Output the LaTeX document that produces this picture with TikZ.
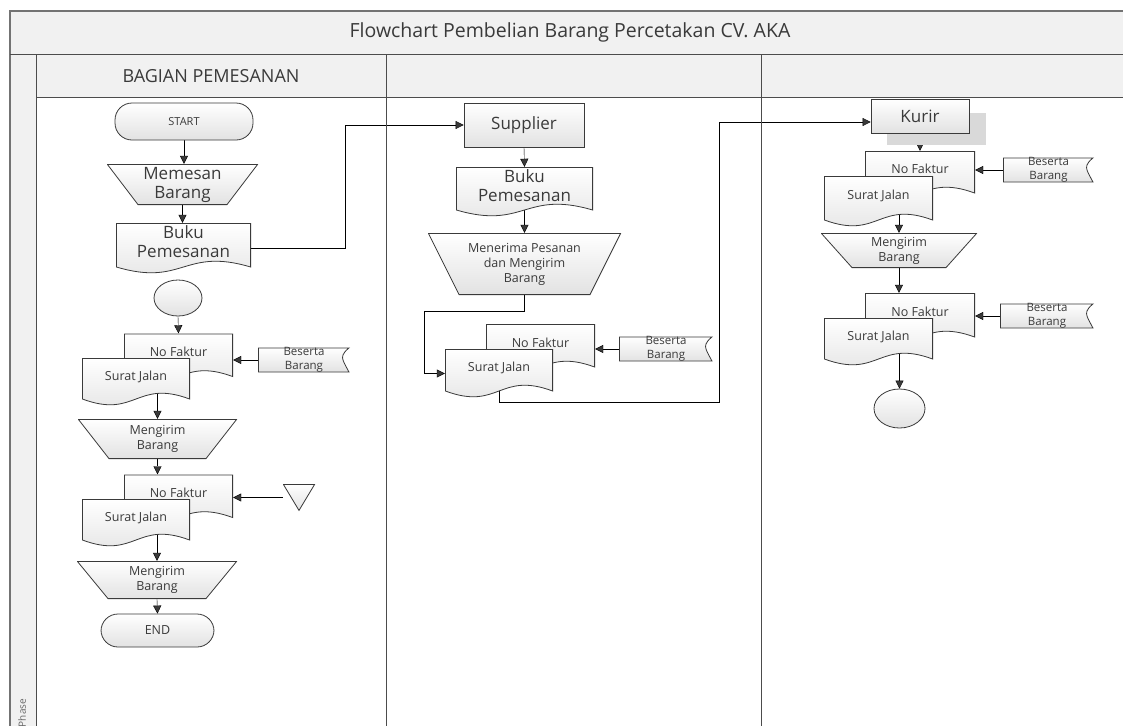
\documentclass[tikz,border=0pt]{standalone}
\usepackage{fontspec}
\setmainfont{Open Sans}
\usetikzlibrary{arrows.meta,shapes.geometric,backgrounds}

\definecolor{ink}{HTML}{3A3A3A}
\definecolor{bar}{HTML}{F1F1F1}
\definecolor{shade}{HTML}{E2E2E2}

\tikzset{
  lbl/.style={inner sep=0pt, align=center, text=ink, font=\fontsize{12.5}{15}\selectfont},
  big/.style={font=\fontsize{17}{19}\selectfont},
  shapeink/.style={draw=ink, line width=0.8pt, top color=white, bottom color=shade},
  process/.style={lbl, shapeink, minimum width=#1, minimum height=34},
  terminal/.style={lbl, shapeink, rounded corners=17pt, minimum width=#1, minimum height=36},
  connector/.style={lbl, shapeink, ellipse, minimum width=48, minimum height=36},
  % document: wavy bottom edge
  docbox/.style={lbl, minimum width=#1, minimum height=50, text depth=13pt,
    path picture={
      \path[shapeink] ([shift={(0.4pt,-0.4pt)}]path picture bounding box.north west)
        -- ([shift={(-0.4pt,-0.4pt)}]path picture bounding box.north east)
        -- ([shift={(-0.4pt,7pt)}]path picture bounding box.south east)
        .. controls ([yshift=27pt]path picture bounding box.south)
        and ([yshift=-13pt]path picture bounding box.south)
        .. ([shift={(0.4pt,7pt)}]path picture bounding box.south west) -- cycle;
    }},
  % manual operation: wide top, narrow bottom
  manual/.style={lbl, minimum width=#1, minimum height=40,
    path picture={
      \path[shapeink] ([shift={(0.4pt,-0.4pt)}]path picture bounding box.north west)
        -- ([shift={(-0.4pt,-0.4pt)}]path picture bounding box.north east)
        -- ([shift={(-31pt,0.4pt)}]path picture bounding box.south east)
        -- ([shift={(31pt,0.4pt)}]path picture bounding box.south west) -- cycle;
    }},
  flag/.style={lbl, minimum width=#1, minimum height=24, font=\fontsize{11.5}{14}\selectfont,
    path picture={
      \path[shapeink] ([shift={(0.4pt,-0.4pt)}]path picture bounding box.north west)
        -- ([shift={(-1pt,-0.4pt)}]path picture bounding box.north east)
        .. controls ([shift={(-8pt,-6pt)}]path picture bounding box.north east)
        and ([shift={(-8pt,3pt)}]path picture bounding box.east)
        .. ([shift={(-7pt,0pt)}]path picture bounding box.east)
        .. controls ([shift={(-6pt,-3pt)}]path picture bounding box.east)
        and ([shift={(-4pt,6pt)}]path picture bounding box.south east)
        .. ([shift={(-1pt,0.4pt)}]path picture bounding box.south east)
        -- ([shift={(0.4pt,0.4pt)}]path picture bounding box.south west) -- cycle;
    }},
  flag/.default=92,
  merge/.style={lbl, minimum width=32, minimum height=27,
    path picture={
      \path[shapeink] ([shift={(0.4pt,-0.4pt)}]path picture bounding box.north west)
        -- ([shift={(-0.4pt,-0.4pt)}]path picture bounding box.north east)
        -- ([yshift=0.6pt]path picture bounding box.south) -- cycle;
    }},
  lanetext/.style={inner sep=0pt, text=ink, font=\fontsize{18}{20}\selectfont}
}

\begin{document}
\begin{tikzpicture}[x=1pt, y=-1pt, >={Triangle[length=8pt,width=8pt]}]
\useasboundingbox (0,0) rectangle (1123,726);
\begin{scope}[on background layer]
\fill[white] (0,0) rectangle (1123,726);
\end{scope}

% swimlanes
\fill[bar] (10,11) rectangle (1123,54);
\fill[bar] (10,54) rectangle (36,726);
\fill[bar] (36,54) rectangle (1123,97);
\draw[black!55, line width=1.6pt] (1123,11) -- (10,11) -- (10,726);
\draw[black!70, line width=1pt] (10,54) -- (1123,54);
\draw[black!70, line width=1pt] (36,97) -- (1123,97);
\draw[black!70, line width=1pt] (36,54) -- (36,726);
\draw[black!70, line width=1pt] (386,54) -- (386,726);
\draw[black!70, line width=1pt] (761,54) -- (761,726);
\node[lanetext, font=\fontsize{19.5}{21}\selectfont] (ttl) at (570,32) {Flowchart Pembelian Barang Percetakan CV. AKA};
\node[lanetext] (lane1) at (211,76) {BAGIAN PEMESANAN};
\node[lanetext, font=\fontsize{10}{12}\selectfont, text=black!60, rotate=90] (ph) at (22,713) {Phase};

% bagian pemesanan
\node[terminal=138, minimum height=37, font=\fontsize{11}{13}\selectfont] (start) at (184,121.5) {START};
\node[manual=151, minimum height=41, big] (order) at (182.5,184.5) {Memesan\\Barang};
\node[docbox=135, minimum height=51, big] (book1) at (183.5,248.5) {Buku\\Pemesanan};
\node[connector] (con1) at (178,298) {};
\node[docbox=109] (nf1) at (178.5,358.5) {No Faktur};
\node[docbox=108, minimum height=48] (sj1) at (136,382) {Surat Jalan};
\node[flag] (bb1) at (304,360) {Beserta\\Barang};
\node[manual=159] (send1) at (157.5,439) {Mengirim\\Barang};
\node[docbox=109] (nf2) at (178.5,499.5) {No Faktur};
\node[merge] (tri) at (299,497.5) {};
\node[docbox=108, minimum height=48] (sj2) at (136,523) {Surat Jalan};
\node[manual=160, minimum height=38] (send2) at (157,580) {Mengirim\\Barang};
\node[terminal=113, minimum height=33] (stop) at (157.5,630.5) {END};

% supplier
\node[process=120, minimum height=44, big] (sup) at (524,125) {Supplier};
\node[docbox=137, big] (book2) at (524.5,192) {Buku\\Pemesanan};
\node[manual=193, minimum height=62] (recv) at (524.5,264) {Menerima Pesanan\\dan Mengirim\\Barang};
\node[docbox=109] (nf3) at (540.5,349) {No Faktur};
\node[docbox=108, minimum height=49] (sj3) at (499,373.5) {Surat Jalan};
\node[flag=94] (bb2) at (666,349) {Beserta\\Barang};

% kurir
\fill[black!15] (887,113) rectangle (986,145);
\node[process=98, big] (kurir) at (920,116) {Kurir};
\node[docbox=110, minimum height=49] (nf4) at (920,175.5) {No Faktur};
\node[docbox=109, minimum height=51] (sj4) at (878.5,201.5) {Surat Jalan};
\node[flag=91] (bb3) at (1048.5,170) {Beserta\\Barang};
\node[manual=156, minimum height=35] (send3) at (899,250.5) {Mengirim\\Barang};
\node[docbox=110, minimum height=51] (nf5) at (920,318.5) {No Faktur};
\node[docbox=109, minimum height=48] (sj5) at (878.5,342) {Surat Jalan};
\node[flag=94] (bb4) at (1047,316) {Beserta\\Barang};
\node[connector, minimum width=51, minimum height=39] (con2) at (899.5,408.5) {};

% connectors
\begin{scope}[on background layer, draw=ink, line width=0.9pt]
\draw [->] (start.south) -- (start.south |- order.north);
\draw [->] (order.south) -- (order.south |- book1.north);
\draw [->] (book1.east) -- ++(94,0) |- (sup.west);
\draw [->] (con1.south) -- (nf1.north);
\draw [->] (bb1.west) -- (bb1.west -| nf1.east);
\draw [->] (send1.north |- sj1.center) -- (send1.north);
\draw [->] (send1.south) -- (send1.south |- nf2.north);
\draw [->] (tri.west) -- (tri.west -| nf2.east);
\draw [->] (send2.north |- sj2.center) -- (send2.north);
\draw [->] (send2.south) -- (stop.north);

\draw [->] (sup.south) -- (book2.north);
\draw [->] (recv.north |- book2.center) -- (recv.north);
\draw [->] (recv.south) -- ++(0,16) -- ++(-100.5,0) |- (sj3.west);
\draw [->] (bb2.west) -- (bb2.west -| nf3.east);
\draw [->] (sj3.center) -- ++(0,28.5) -- ++(220,0) |- ([yshift=-6pt]kurir.west);

\draw [->] (kurir.south) -- (nf4.north);
\draw [->] (bb3.west) -- (bb3.west -| nf4.east);
\draw [->] (send3.north |- sj4.center) -- (send3.north);
\draw [->] (send3.south) -- (send3.south |- nf5.north);
\draw [->] (bb4.west) -- (bb4.west -| nf5.east);
\draw [->] (con2.north |- sj5.center) -- (con2.north);
\end{scope}

\end{tikzpicture}
\end{document}
